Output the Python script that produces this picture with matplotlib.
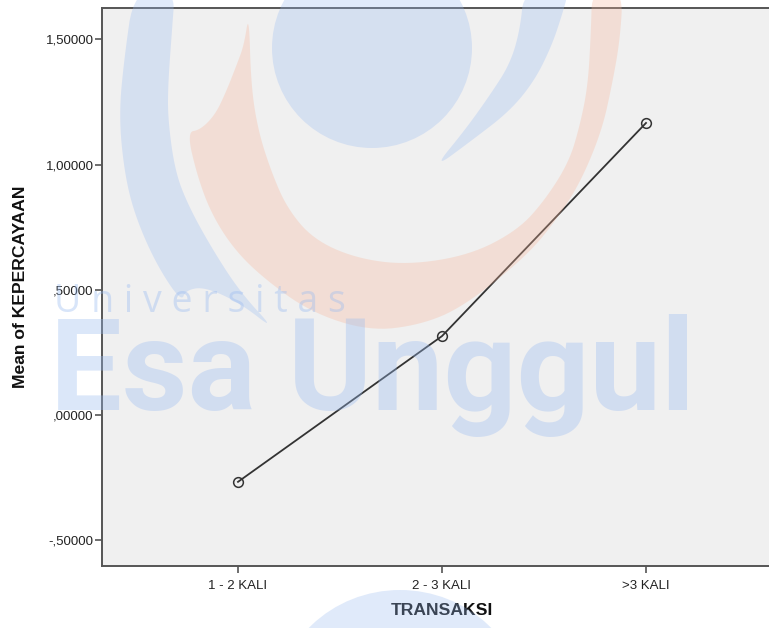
import matplotlib
matplotlib.use("Agg")
import matplotlib.pyplot as plt
from matplotlib.patches import Ellipse, Polygon
import numpy as np

W, H = 769, 628
DPI = 100

categories = ["1 - 2 KALI", "2 - 3 KALI", ">3 KALI"]
mean_values = [-0.267, 0.315, 1.166]
ytick_values = [-0.5, 0.0, 0.5, 1.0, 1.5]
ytick_labels = ["-,50000", ",00000", ",50000", "1,00000", "1,50000"]

BLUE_WM = (153 / 255, 187 / 255, 240 / 255)
ORANGE_WM = (247 / 255, 180 / 255, 153 / 255)
WM_ALPHA = 0.3

# logo outlines traced in pixels (x right, y down)
ORANGE_SHAPE = [(187, 132), (197, 175), (211, 213), (233, 248), (262, 277),
                (310, 312), (369, 331), (420, 325), (463, 307), (527, 256),
                (560, 215), (582, 179), (602, 130), (612, 85), (620, 40),
                (623, -10), (592, -10), (591, 30), (588, 85), (580, 125),
                (569, 162), (545, 200), (518, 230), (470, 255), (407, 265),
                (355, 258), (313, 239), (287, 208), (271, 171), (258, 130),
                (251, 85), (249, 13), (244, 45), (237, 64), (226, 92),
                (215, 115), (200, 130)]
LEFT_BLUE_SHAPE = [(134, -10), (124, 60), (119, 115), (124, 170), (134, 213),
                   (155, 262), (181, 302), (186, 290), (205, 287), (240, 303),
                   (276, 331), (240, 292), (211, 247), (188, 205), (175, 171),
                   (168, 120), (168, 85), (172, 30), (175, -10)]
RIGHT_BLUE_SHAPE = [(524, -10), (520, 30), (510, 64), (490, 95), (465, 130),
                    (433, 169), (471, 141), (510, 111), (535, 80), (552, 45),
                    (562, 15), (569, -10)]


def smooth(points, rounds=3):
    # chaikin corner cutting on a closed outline
    pts = np.asarray(points, dtype=float)
    for _ in range(rounds):
        nxt = np.roll(pts, -1, axis=0)
        q = 0.75 * pts + 0.25 * nxt
        r = 0.25 * pts + 0.75 * nxt
        pts = np.empty((2 * len(q), 2))
        pts[0::2] = q
        pts[1::2] = r
    return pts


def draw_watermark(fig):
    wm = fig.add_axes([0, 0, 1, 1], zorder=5)
    wm.set_xlim(0, W)
    wm.set_ylim(H, 0)
    wm.axis("off")
    wm.patch.set_alpha(0)

    kw = dict(linewidth=0, alpha=WM_ALPHA)
    wm.add_patch(Ellipse((372, 48), 200, 200, facecolor=BLUE_WM, **kw))
    wm.add_patch(Ellipse((400, 710), 250, 240, facecolor=BLUE_WM, **kw))
    wm.add_patch(Polygon(smooth(ORANGE_SHAPE), closed=True,
                         facecolor=ORANGE_WM, **kw))
    wm.add_patch(Polygon(smooth(LEFT_BLUE_SHAPE), closed=True,
                         facecolor=BLUE_WM, **kw))
    wm.add_patch(Polygon(smooth(RIGHT_BLUE_SHAPE), closed=True,
                         facecolor=BLUE_WM, **kw))

    wm.text(54, 312, "U n i v e r s i t a s", fontsize=27, color=BLUE_WM,
            alpha=WM_ALPHA + 0.08, family="Open Sans",
            va="baseline", ha="left")
    wm.text(50, 410, "Esa Unggul", fontsize=92, color=BLUE_WM,
            alpha=WM_ALPHA + 0.05, family="Roboto", fontweight="bold",
            va="baseline", ha="left")


fig = plt.figure(figsize=(W / DPI, H / DPI), dpi=DPI)
fig.patch.set_facecolor("white")

ax = fig.add_axes([102 / W, 1 - 566 / H, 680 / W, 558 / H])
ax.set_facecolor("#F0F0F0")

x = np.arange(len(categories))
ax.plot(x, mean_values, color="#333333", linewidth=1.3, marker="o",
        markersize=7, markerfacecolor="none", markeredgecolor="#333333",
        markeredgewidth=1.1)

ax.set_xlim(-2 / 3, len(categories) - 1 + 2 / 3)
ax.set_ylim(-0.603, 1.625)
ax.set_xticks(x)
ax.set_xticklabels(categories, fontsize=9.5, family="Liberation Sans",
                   color="#222222")
ax.set_yticks(ytick_values)
ax.set_yticklabels(ytick_labels, fontsize=9.5, family="Liberation Sans",
                   color="#222222")
ax.tick_params(direction="out", length=5, width=1.2, color="#555555")
ax.tick_params(axis="y", pad=1)
ax.tick_params(axis="x", pad=5)

for side in ["left", "bottom", "top", "right"]:
    ax.spines[side].set_color("#555555")
    ax.spines[side].set_linewidth(1.4)

ax.set_xlabel("TRANSAKSI", fontsize=12.6, fontweight="bold",
              family="Liberation Sans", labelpad=8, color="#111111")
ax.set_ylabel("Mean of KEPERCAYAAN", fontsize=12.6, fontweight="bold",
              family="Liberation Sans", labelpad=13, color="#111111")

draw_watermark(fig)

fig.savefig("out.png", dpi=DPI)
